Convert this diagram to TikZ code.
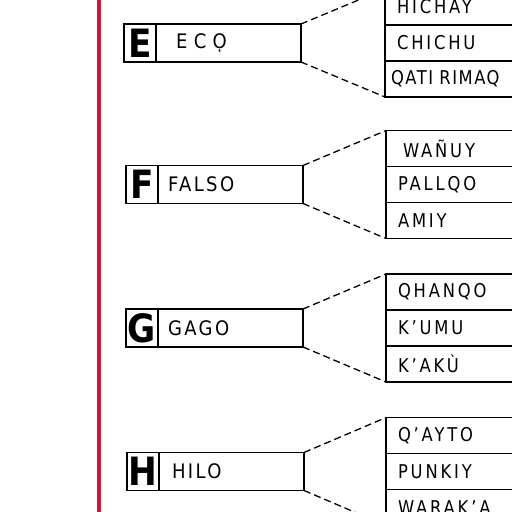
\documentclass[tikz,border=0pt]{standalone}
\usepackage{fontspec}
\setmainfont{DejaVu Sans}
\usetikzlibrary{positioning}
\definecolor{margenrojo}{RGB}{205,25,55}

\begin{document}
\begin{tikzpicture}[x=1pt,y=1pt,
    every node/.style={draw,line width=1.4pt,inner sep=0pt,outer sep=0pt},
    letra/.style={minimum width=32pt,minimum height=38pt,
                  font=\fontsize{39}{39}\selectfont\bfseries\addfontfeature{FakeStretch=0.88}},
    palabra/.style={minimum width=145pt,minimum height=38pt,text width=125pt,align=left,
                    font=\fontsize{20}{20}\selectfont\addfontfeature{LetterSpace=12,FakeStretch=0.9}},
    fila/.style={minimum width=150pt,minimum height=36pt,text width=126pt,align=left,
                 font=\fontsize{19}{19}\selectfont\addfontfeature{LetterSpace=15,FakeStretch=0.86}},
    enlace/.style={dash pattern=on 7pt off 4pt,line width=1.3pt}]

\useasboundingbox (0,0) rectangle (512,-512);
\clip (0,0) rectangle (512,-512);

% margen rojo
\draw[margenrojo,line width=3.5pt] (99,0) -- (99,-512);

% E
\node[letra] (lE) at (140,-43) {E};
\node[palabra,right=0pt of lE] (wE) {\hspace*{10pt}\addfontfeature{LetterSpace=32}ECỌ};
\node[fila,right=84pt of wE] (e2) {CHICHU};
\node[fila,above=0pt of e2] (e1) {HICHAY};
\node[fila,below=0pt of e2] (e3) {\hspace*{-6pt}\addfontfeature{LetterSpace=8}QATI RIMAQ};
\draw[enlace] (wE.north east) -- (e1.north west);
\draw[enlace] (wE.south east) -- (e3.south west);

% F
\node[letra] (lF) at (142,-184.5) {F};
\node[palabra,right=0pt of lF] (wF) {FALSO};
\node[fila,right=83pt of wF] (f2) {PALLQO};
\node[fila,above=0pt of f2] (f1) {\hspace*{5pt}WAÑUY};
\node[fila,below=0pt of f2] (f3) {AMIY};
\draw[enlace] (wF.north east) -- (f1.north west);
\draw[enlace] (wF.south east) -- (f3.south west);

% G
\node[letra] (lG) at (142,-328) {G};
\node[palabra,right=0pt of lG] (wG) {GAGO};
\node[fila,right=83pt of wG] (g2) {K'UMU};
\node[fila,above=0pt of g2] (g1) {QHANQO};
\node[fila,below=0pt of g2] (g3) {K'AKÙ};
\draw[enlace] (wG.north east) -- (g1.north west);
\draw[enlace] (wG.south east) -- (g3.south west);

% H
\node[letra] (lH) at (143,-471.5) {H};
\node[palabra,right=0pt of lH] (wH) {\hspace*{3pt}HILO};
\node[fila,right=82pt of wH] (h2) {PUNKIY};
\node[fila,above=0pt of h2] (h1) {Q'AYTO};
\node[fila,below=0pt of h2] (h3) {WARAK'A};
\draw[enlace] (wH.north east) -- (h1.north west);
\draw[enlace] (wH.south east) -- (h3.south west);

\end{tikzpicture}
\end{document}
